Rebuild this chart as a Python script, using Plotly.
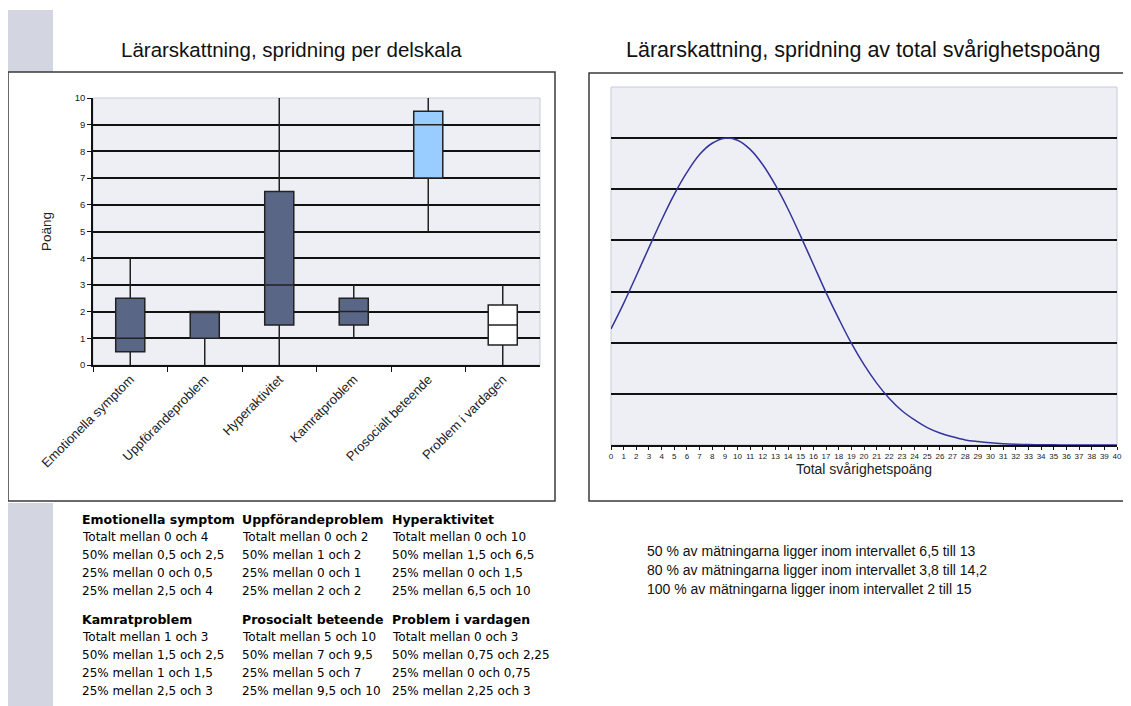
import plotly.graph_objects as go

# sidan har 8 px marginal runt figuren
W, H = 1123, 698
OFF = 8

# Vänster diagram: spridning per delskala
DELSKALOR = ["Emotionella symptom", "Uppförandeproblem", "Hyperaktivitet",
             "Kamratproblem", "Prosocialt beteende", "Problem i vardagen"]
MIN_V = [0, 0, 0, 1, 5, 0]
Q1 = [0.5, 1, 1.5, 1.5, 7, 0.75]
MEDIAN = [1, 2, 3, 2, 9, 1.5]
Q3 = [2.5, 2, 6.5, 2.5, 9.5, 2.25]
MAX_V = [4, 2, 10, 3, 10, 3]
FARGER = ["#5A6686", "#5A6686", "#5A6686", "#5A6686", "#99CCFF", "#FFFFFF"]

Y_TICKS = list(range(0, 11))

# Höger diagram: total svårighetspoäng
POANG = list(range(0, 41))
KURVA = [2.27, 2.77, 3.31, 3.86, 4.40, 4.90, 5.33, 5.68, 5.90, 6.00,
         5.96, 5.78, 5.48, 5.08, 4.61, 4.08, 3.53, 2.98, 2.47, 1.99,
         1.57, 1.21, 0.91, 0.67, 0.49, 0.34, 0.235, 0.16, 0.10, 0.067,
         0.042, 0.025, 0.015, 0.009, 0.005, 0.003, 0.0015, 0.001, 0.0005,
         0.0003, 0.0001]

INTERVALL_PROCENT = [50, 80, 100]
INTERVALL_FRAN = ["6,5", "3,8", "2"]
INTERVALL_TILL = ["13", "14,2", "15"]

PLOT_BG = "#EEEFF4"
RAM = "#C6CADA"
LAGOM_GRA = "#D3D5E0"


def px(x):
    return (x - OFF) / W


def py(y):
    return 1 - (y - OFF) / H


def _fmt(v):
    return f"{v:g}".replace(".", ",")


fig = go.Figure()

for i, namn in enumerate(DELSKALOR):
    fig.add_trace(go.Box(
        x=[namn], q1=[Q1[i]], median=[MEDIAN[i]], q3=[Q3[i]],
        lowerfence=[MIN_V[i]], upperfence=[MAX_V[i]],
        fillcolor=FARGER[i], line=dict(color="#222222", width=1.5),
        width=0.39, whiskerwidth=0, showlegend=False,
        xaxis="x", yaxis="y",
    ))

fig.add_trace(go.Scatter(
    x=POANG, y=KURVA, mode="lines", line=dict(color="#34349A", width=1.5, shape="spline"),
    showlegend=False, xaxis="x2", yaxis="y2",
))

fig.update_layout(
    width=W, height=H, autosize=False,
    margin=dict(l=0, r=0, t=0, b=0),
    paper_bgcolor="white", plot_bgcolor=PLOT_BG,
    boxmode="overlay",
    font=dict(family="Liberation Sans, Arial", color="#111111"),
    xaxis=dict(
        domain=[px(93), px(540)], anchor="y", type="category", automargin=False,
        range=[-0.5, 5.5], tickson="boundaries", ticks="outside", ticklen=5,
        tickcolor="#111", tickwidth=1.2, showline=True, linecolor="#111", linewidth=1.5,
        tickangle=-45, tickfont=dict(size=13, color="#222"), showgrid=False,
    ),
    yaxis=dict(
        domain=[py(365), py(98)], anchor="x", range=[0, 10], automargin=False,
        tickvals=Y_TICKS, ticks="outside", ticklen=4, tickcolor="#111",
        tickfont=dict(size=9.5, color="#222"),
        showgrid=True, gridcolor="#111", gridwidth=1.5, zeroline=False,
        showline=True, linecolor="#111", linewidth=1.5,
        title=dict(text="Poäng", font=dict(size=13.5, color="#222"), standoff=20),
    ),
    xaxis2=dict(
        domain=[px(611), px(1117)], anchor="y2", range=[0, 40], dtick=1, automargin=False,
        ticks="outside", ticklen=3, tickcolor="#111", showline=True, linecolor="#111",
        linewidth=1.5, showgrid=False, zeroline=False,
        tickfont=dict(size=8, color="#222"),
        title=dict(text="Total svårighetspoäng", font=dict(size=14, color="#222"), standoff=3),
    ),
    yaxis2=dict(
        domain=[py(445), py(87)], anchor="x2", range=[0, 7], automargin=False,
        tickvals=[1, 2, 3, 4, 5, 6], showticklabels=False, ticks="",
        showgrid=True, gridcolor="#111", gridwidth=1.5, zeroline=False, showline=False,
    ),
)

# ramar och grå fält
shapes = [
    dict(type="rect", xref="paper", yref="paper", x0=px(8), x1=px(53), y0=py(72), y1=py(10),
         fillcolor=LAGOM_GRA, line=dict(width=0), layer="below"),
    dict(type="rect", xref="paper", yref="paper", x0=px(8), x1=px(53), y0=0, y1=py(503),
         fillcolor=LAGOM_GRA, line=dict(width=0), layer="below"),
    dict(type="rect", xref="paper", yref="paper", x0=px(8), x1=px(555), y0=py(501), y1=py(72),
         line=dict(color="#3A3A3A", width=1.5)),
    dict(type="rect", xref="paper", yref="paper", x0=px(589), x1=px(1129), y0=py(501), y1=py(73),
         line=dict(color="#3A3A3A", width=1.5)),
    dict(type="rect", xref="x domain", yref="y domain", x0=0, x1=1, y0=0, y1=1,
         line=dict(color=RAM, width=1), layer="below"),
    dict(type="rect", xref="x2 domain", yref="y2 domain", x0=0, x1=1, y0=0, y1=1,
         line=dict(color=RAM, width=1), layer="below"),
]

annotations = [
    dict(text="Lärarskattning, spridning per delskala", x=px(291), y=py(50),
         xref="paper", yref="paper", showarrow=False, xanchor="center", yanchor="middle",
         font=dict(size=20.5, color="#111")),
    dict(text="Lärarskattning, spridning av total svårighetspoäng", x=px(863), y=py(50),
         xref="paper", yref="paper", showarrow=False, xanchor="center", yanchor="middle",
         font=dict(size=21.5, color="#111")),
]

# tabell med spridningstext
kol_x = [80, 240, 390]
block_y = [519, 619]
for i, namn in enumerate(DELSKALOR):
    x = kol_x[i % 3]
    y0 = block_y[i // 3]
    rader = [
        f"Totalt mellan {_fmt(MIN_V[i])} och {_fmt(MAX_V[i])}",
        f"50% mellan {_fmt(Q1[i])} och {_fmt(Q3[i])}",
        f"25% mellan {_fmt(MIN_V[i])} och {_fmt(Q1[i])}",
        f"25% mellan {_fmt(Q3[i])} och {_fmt(MAX_V[i])}",
    ]
    annotations.append(dict(
        text=f"<b>{namn}</b>", x=px(x), y=py(y0), xref="paper", yref="paper",
        showarrow=False, xanchor="left", yanchor="middle",
        font=dict(family="DejaVu Sans", size=12.5, color="#000"),
    ))
    for j, rad in enumerate(rader):
        annotations.append(dict(
            text=rad, x=px(x), y=py(y0 + 18 * (j + 1)), xref="paper", yref="paper",
            showarrow=False, xanchor="left", yanchor="middle",
            font=dict(family="DejaVu Sans", size=12, color="#000"),
        ))

for k, p in enumerate(INTERVALL_PROCENT):
    annotations.append(dict(
        text=f"{p} % av mätningarna ligger inom intervallet {INTERVALL_FRAN[k]} till {INTERVALL_TILL[k]}",
        x=px(645), y=py(551 + 19 * k), xref="paper", yref="paper",
        showarrow=False, xanchor="left", yanchor="middle",
        font=dict(size=14, color="#111"),
    ))

fig.update_layout(shapes=shapes, annotations=annotations)

fig.write_html("out.html")
